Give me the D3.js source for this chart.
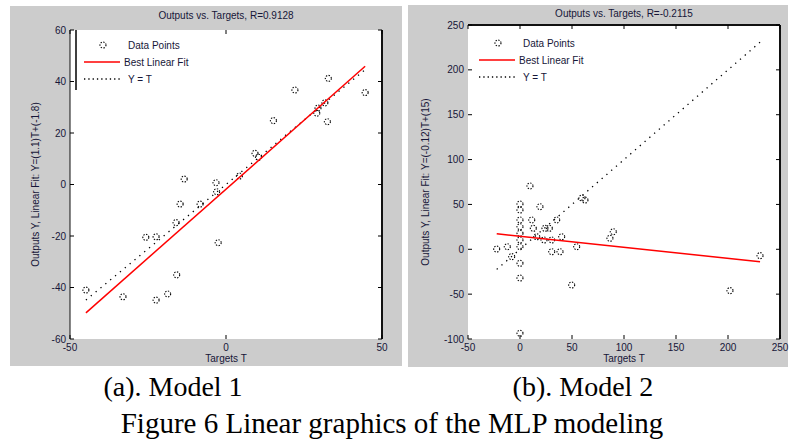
<!DOCTYPE html>
<html lang="en">
  <head>
    <meta charset="utf-8" />
    <title>Linear graphics of the MLP modeling</title>
    <script src="https://cdn.jsdelivr.net/npm/d3@7"></script>
    <style type="text/css">
      body {
        margin: 0;
        background: #ffffff;
      }
      .tick-label {
        font-family: "Liberation Sans", Arial, sans-serif;
        font-size: 10px;
        fill: #161638;
      }
      .caption {
        font-family: "Liberation Serif", "Times New Roman", serif;
        fill: #000000;
      }
    </style>
  </head>
  <body>
    <script type="text/javascript">
      //Model 1 (targets T, outputs Y)
      var model1Targets = [
        -44.9, -33.0, -25.7, -22.4, -22.4, -18.7, -15.8, -16.0, -14.7, -13.4,
        -8.3, -3.2, -3.0, -2.5, 4.3, 9.3, 10.4, 15.2, 22.1, 29.1, 29.5, 31.7,
        32.5, 32.8, 44.6,
      ];
      var model1Outputs = [
        -41.0, -43.6, -20.5, -20.3, -44.9, -42.5, -35.1, -14.8, -7.6, 2.1,
        -7.6, 0.7, -2.8, -22.6, 3.3, 12.1, 10.6, 24.8, 36.7, 27.7, 29.7, 31.7,
        24.4, 41.2, 35.7,
      ];
      var model1Fit = [1.07, -1.8]; // slope, intercept
      var model1XTicks = [-50, 0, 50];
      var model1YTicks = [-60, -40, -20, 0, 20, 40, 60];

      //Model 2
      var model2Targets = [
        -22.4, -12.2, -8.0, 0, 0, 0, 0, 0, 0, 0, 0, 0, 0, 9.6, 11.3, 12.8,
        19.2, 16.1, 24.0, 28.2, 23.1, 30.5, 35.3, 30.5, 38.5, 40.1, 49.7, 54.5,
        62.5, 59.6, 89.7, 86.5, 201.9, 230.8,
      ];
      var model2Outputs = [
        0.3, 2.9, -8.2, -15.6, -32.0, -93.6, 32.7, 25.2, 17.8, 10.4, 2.9, 43.8,
        50.5, 70.6, 32.7, 23.4, 47.5, 14.0, 23.4, 23.4, 10.4, 10.4, 32.7, -2.7,
        -2.7, 14.0, -39.8, 2.9, 54.9, 57.2, 19.6, 12.3, -46.1, -7.1,
      ];
      var model2Fit = [-0.123, 14.5];
      var model2XTicks = [-50, 0, 50, 100, 150, 200, 250];
      var model2YTicks = [-100, -50, 0, 50, 100, 150, 200, 250];

      var titles = [
        "Outputs vs. Targets, R=0.9128",
        "Outputs vs. Targets, R=-0.2115",
      ];
      var yLabels = [
        "Outputs Y, Linear Fit: Y=(1.1)T+(-1.8)",
        "Outputs Y, Linear Fit: Y=(-0.12)T+(15)",
      ];
      var legendLabels = ["Data Points", "Best Linear Fit", "Y = T"];
      var subCaptions = ["(a). Model 1", "(b). Model 2"];
      var figureCaption = "Figure 6 Linear graphics of the MLP modeling";

      var w = 792;
      var h = 444;

      var svg = d3
        .select("body")
        .append("svg")
        .attr("width", w)
        .attr("height", h);

      var panels = [
        {
          bg: [10, 6, 392, 360],
          x0: 70, x1: 382, y0: 30, y1: 339,
          xDomain: [-50, 50], yDomain: [-60, 60],
          targets: model1Targets, outputs: model1Outputs, fit: model1Fit,
          xTicks: model1XTicks, yTicks: model1YTicks,
          title: titles[0], yLabel: yLabels[0], yLabelX: 35, titleY: 19,
          legend: { x: 84, y: 45, edge: true },
          sides: { left: 1, right: 2, top: 0, bottom: 0 },
        },
        {
          bg: [408, 5, 380, 362],
          x0: 468, x1: 780, y0: 25, y1: 339,
          xDomain: [-50, 250], yDomain: [-100, 250],
          targets: model2Targets, outputs: model2Outputs, fit: model2Fit,
          xTicks: model2XTicks, yTicks: model2YTicks,
          title: titles[1], yLabel: yLabels[1], yLabelX: 425, titleY: 17,
          legend: { x: 479, y: 43, edge: false },
          sides: { left: 0, right: 2, top: 2, bottom: 0 },
        },
      ];

      panels.forEach(function (p) {
        var g = svg.append("g");

        //Gray figure background
        g.append("rect")
          .attr("x", p.bg[0])
          .attr("y", p.bg[1])
          .attr("width", p.bg[2])
          .attr("height", p.bg[3])
          .attr("fill", "#cccccc");

        var xScale = d3.scaleLinear().domain(p.xDomain).range([p.x0, p.x1]);
        var yScale = d3.scaleLinear().domain(p.yDomain).range([p.y1, p.y0]);

        //Plot area
        g.append("rect")
          .attr("x", p.x0)
          .attr("y", p.y0)
          .attr("width", p.x1 - p.x0)
          .attr("height", p.y1 - p.y0)
          .attr("fill", "#ffffff");

        var data = p.targets.map(function (t, i) {
          return { t: t, y: p.outputs[i] };
        });
        var tExtent = d3.extent(p.targets);

        //Y = T line
        g.append("line")
          .attr("x1", xScale(tExtent[0]))
          .attr("y1", yScale(tExtent[0]))
          .attr("x2", xScale(tExtent[1]))
          .attr("y2", yScale(tExtent[1]))
          .attr("stroke", "#000")
          .attr("stroke-width", 1.3)
          .attr("stroke-dasharray", "1.3,5");

        //Data points
        g.selectAll("circle.pt")
          .data(data)
          .enter()
          .append("circle")
          .attr("class", "pt")
          .attr("cx", function (d) {
            return xScale(d.t);
          })
          .attr("cy", function (d) {
            return yScale(d.y);
          })
          .attr("r", 3)
          .attr("fill", "none")
          .attr("stroke", "#000")
          .attr("stroke-width", 1.1)
          .attr("stroke-dasharray", "1.4,1.4");

        //Best linear fit
        g.append("line")
          .attr("x1", xScale(tExtent[0]))
          .attr("y1", yScale(p.fit[0] * tExtent[0] + p.fit[1]))
          .attr("x2", xScale(tExtent[1]))
          .attr("y2", yScale(p.fit[0] * tExtent[1] + p.fit[1]))
          .attr("stroke", "#ff0000")
          .attr("stroke-width", 1.5);

        //Box edges
        var edges = [
          ["left", p.x0, p.y0, p.x0, p.y1],
          ["right", p.x1, p.y0, p.x1, p.y1],
          ["top", p.x0, p.y0, p.x1, p.y0],
          ["bottom", p.x0, p.y1, p.x1, p.y1],
        ];
        edges.forEach(function (e) {
          if (!p.sides[e[0]]) return;
          g.append("line")
            .attr("x1", e[1])
            .attr("y1", e[2])
            .attr("x2", e[3])
            .attr("y2", e[4])
            .attr("stroke", "#111")
            .attr("stroke-width", p.sides[e[0]]);
        });

        //Ticks inside the box, on all sides
        var tl = 4;
        p.yTicks.forEach(function (v) {
          var y = yScale(v);
          g.append("line")
            .attr("x1", p.x0).attr("x2", p.x0 + tl)
            .attr("y1", y).attr("y2", y)
            .attr("stroke", "#000");
          g.append("line")
            .attr("x1", p.x1 - tl).attr("x2", p.x1)
            .attr("y1", y).attr("y2", y)
            .attr("stroke", "#000");
          g.append("text")
            .attr("class", "tick-label")
            .attr("x", p.x0 - 4)
            .attr("y", y + 3.5)
            .attr("text-anchor", "end")
            .text(v);
        });
        p.xTicks.forEach(function (v) {
          var x = xScale(v);
          g.append("line")
            .attr("x1", x).attr("x2", x)
            .attr("y1", p.y1).attr("y2", p.y1 - tl)
            .attr("stroke", "#000");
          g.append("line")
            .attr("x1", x).attr("x2", x)
            .attr("y1", p.y0).attr("y2", p.y0 + tl)
            .attr("stroke", "#000");
          g.append("text")
            .attr("class", "tick-label")
            .attr("x", x)
            .attr("y", p.y1 + 12)
            .attr("text-anchor", "middle")
            .text(v);
        });

        //Title and axis labels
        g.append("text")
          .attr("class", "tick-label")
          .attr("x", (p.x0 + p.x1) / 2)
          .attr("y", p.titleY)
          .attr("text-anchor", "middle")
          .text(p.title);
        g.append("text")
          .attr("class", "tick-label")
          .attr("x", (p.x0 + p.x1) / 2)
          .attr("y", p.y1 + 23)
          .attr("text-anchor", "middle")
          .text("Targets T");
        g.append("text")
          .attr("class", "tick-label")
          .attr("transform",
            "translate(" + p.yLabelX + "," + (p.y0 + p.y1) / 2 + ") rotate(-90)")
          .attr("text-anchor", "middle")
          .attr("dy", "0.35em")
          .text(p.yLabel);

        //Legend
        var lg = p.legend;
        if (lg.edge) {
          g.append("line")
            .attr("x1", lg.x - 8).attr("x2", lg.x - 8)
            .attr("y1", p.y0).attr("y2", p.y0 + 60)
            .attr("stroke", "#000")
            .attr("stroke-width", 1.5);
        }
        g.append("circle")
          .attr("cx", lg.x + 19)
          .attr("cy", lg.y)
          .attr("r", 3)
          .attr("fill", "none")
          .attr("stroke", "#000")
          .attr("stroke-width", 1.1)
          .attr("stroke-dasharray", "1.4,1.4");
        g.append("line")
          .attr("x1", lg.x).attr("x2", lg.x + 36)
          .attr("y1", lg.y + 17).attr("y2", lg.y + 17)
          .attr("stroke", "#ff0000")
          .attr("stroke-width", 1.5);
        g.append("line")
          .attr("x1", lg.x).attr("x2", lg.x + 36)
          .attr("y1", lg.y + 34).attr("y2", lg.y + 34)
          .attr("stroke", "#000")
          .attr("stroke-width", 1.3)
          .attr("stroke-dasharray", "1.3,3");
        legendLabels.forEach(function (s, i) {
          g.append("text")
            .attr("class", "tick-label")
            .attr("x", lg.x + (i == 1 ? 40 : 44))
            .attr("y", lg.y + i * 17 + 3.5)
            .text(s);
        });
      });

      //Captions
      svg.selectAll("text.sub")
        .data(subCaptions)
        .enter()
        .append("text")
        .attr("class", "caption sub")
        .attr("x", function (d, i) {
          return i == 0 ? 173 : 583;
        })
        .attr("y", 396)
        .attr("text-anchor", "middle")
        .attr("font-size", "28px")
        .text(function (d) {
          return d;
        });
      svg.append("text")
        .attr("class", "caption")
        .attr("x", 392)
        .attr("y", 433)
        .attr("text-anchor", "middle")
        .attr("font-size", "29px")
        .text(figureCaption);
    </script>
  </body>
</html>
